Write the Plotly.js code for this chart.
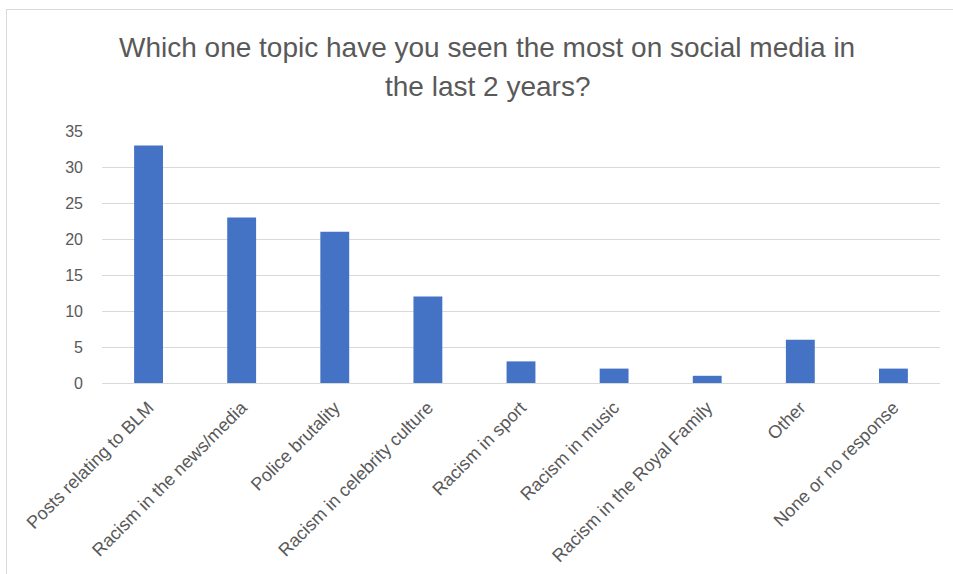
<!DOCTYPE html>
<html><head><meta charset="utf-8">
<script src="https://cdn.plot.ly/plotly-3.0.1.min.js"></script>
<style>
html,body{margin:0;padding:0;background:#fff;}
#chart{width:953px;height:574px;position:absolute;left:0;top:0;}
#frame{position:absolute;left:6px;top:9px;width:960px;height:600px;border:1px solid #d9d9d9;pointer-events:none;}
</style></head>
<body>
<div id="chart"></div>
<div id="frame"></div>
<script>
const categories = ["Posts relating to BLM","Racism in the news/media","Police brutality","Racism in celebrity culture","Racism in sport","Racism in music","Racism in the Royal Family","Other","None or no response"];
const values = [33, 23, 21, 12, 3, 2, 1, 6, 2];
const yTicks = [0,5,10,15,20,25,30,35];
const titleLines = ["Which one topic have you seen the most on social media in", "the last 2 years?"];

const font = "Liberation Sans, Arial, sans-serif";
const titleFont = {family:font, size:28, color:'#595959'};
Plotly.newPlot('chart', [{
  type:'bar', x:categories, y:values,
  marker:{color:'#4472C4'},
  hoverinfo:'x+y'
}], {
  width:953, height:574,
  margin:{l:102, r:13, t:131, b:191},
  paper_bgcolor:'rgba(0,0,0,0)', plot_bgcolor:'#fff',
  bargap:0.69,
  annotations:[
    {text:titleLines[0], xref:'paper', yref:'paper', x:0.46, y:1 + (131-47)/252, xanchor:'center', yanchor:'middle', showarrow:false, font:titleFont},
    {text:titleLines[1], xref:'paper', yref:'paper', x:0.46, y:1 + (131-87)/252, xanchor:'center', yanchor:'middle', showarrow:false, font:titleFont}
  ],
  xaxis:{tickangle:-45, tickfont:{family:font, size:18, color:'#595959'}, showline:true, linecolor:'#d9d9d9', linewidth:1, ticks:'', showgrid:false, ticklabelstandoff:6},
  yaxis:{range:[0,35], tickvals:yTicks, tickfont:{family:font, size:16, color:'#595959'}, gridcolor:'#d9d9d9', gridwidth:1, zeroline:false, ticks:'', ticklabelstandoff:18},
  showlegend:false
}, {displayModeBar:false});
</script>
</body></html>
